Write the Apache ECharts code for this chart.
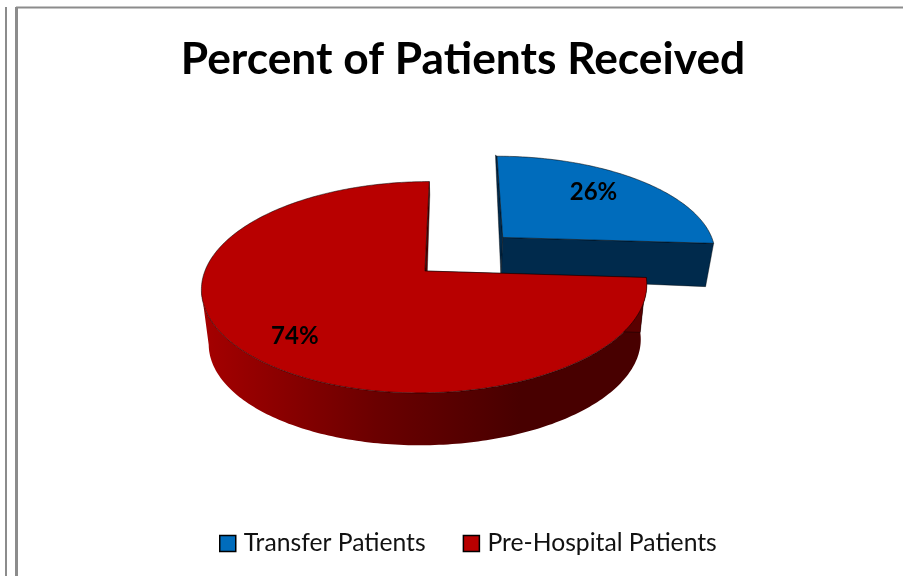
<!DOCTYPE html>
<html>
<head>
<meta charset="utf-8">
<title>Percent of Patients Received</title>
<style>
    html, body { margin: 0; padding: 0; background: #fff; }
    #chart { width: 903px; height: 576px; }
</style>
<script src="https://cdn.jsdelivr.net/npm/echarts@6/dist/echarts.min.js"></script>
</head>
<body>
<div id="chart"></div>
<script>
var titleText = 'Percent of Patients Received';
var sliceNames = ['Transfer Patients', 'Pre-Hospital Patients'];
var sliceValues = [26, 74];
var sliceColors = ['#006cbc', '#b80000'];
var wallColors = ['#002a4c', '#5a0000'];

// perspective used for the tilted pie, the library has no 3d pie
var view = {
    vx: 458, vy: -399, camera: 670, depth: 0.0007,
    radius: 220, explode: 55, centerX: 7, centerY: 37.7,
    thick: 55, thickBack: 0.19, thickFront: 0.012, shrink: 0.97, shrinkX: 445
};
var labelRadius = [0.72, 0.78];
var labelTurn = [-5, -4];

var total = sliceValues.reduce(function (a, b) { return a + b; }, 0);

function sliceRange(index) {
    var start = 0;
    for (var i = 0; i < index; i++) {
        start += sliceValues[i] / total * 360;
    }
    return [start, start + sliceValues[index] / total * 360];
}

// world point of a slice: angle is clockwise from the back of the pie
function worldPoint(index, angle, r) {
    var range = sliceRange(index);
    var mid = (range[0] + range[1]) / 2 * Math.PI / 180;
    var a = angle * Math.PI / 180;
    return [
        view.centerX + view.explode * Math.sin(mid) + r * Math.sin(a),
        view.centerY + view.explode * Math.cos(mid) + r * Math.cos(a)
    ];
}

function topPoint(w) {
    var s = 1 / (1 + view.depth * w[1]);
    return [view.vx + w[0] * s, view.vy + view.camera * s];
}

function bottomPoint(w) {
    var top = topPoint(w);
    // wall height changes a bit with depth
    var wall = view.thick - Math.max(w[1], 0) * view.thickBack + Math.min(w[1], 0) * view.thickFront;
    return [
        view.shrinkX + (top[0] - view.shrinkX) * view.shrink,
        top[1] + wall
    ];
}

function renderSlice(params, api) {
    var index = params.seriesIndex;
    var range = sliceRange(index);
    var arc = [];
    for (var a = range[0]; a < range[1]; a += 1) {
        arc.push(worldPoint(index, a, view.radius));
    }
    arc.push(worldPoint(index, range[1], view.radius));
    var apex = worldPoint(index, range[0], 0);

    var arcTop = arc.map(topPoint);

    // outer wall stops at the leftmost point, past it the strip folds and leaves a hole
    var leftmost = 0;
    arcTop.forEach(function (p, i) {
        if (p[0] < arcTop[leftmost][0]) {
            leftmost = i;
        }
    });
    var wallArc = arc.slice(0, leftmost + 1);
    var wallPoints = wallArc.map(topPoint).concat(wallArc.map(bottomPoint).reverse());

    var wallFill = wallColors[index];
    if (index === 1) {
        wallFill = new echarts.graphic.LinearGradient(205, 0, 520, 0, [
            {offset: 0, color: '#a40000'},
            {offset: 0.55, color: '#6a0000'},
            {offset: 1, color: '#480000'}
        ], true);
    }
    var edge = 'rgba(0,0,0,0.65)';
    var first = arc[0];
    var last = arc[arc.length - 1];

    var mid = (range[0] + range[1]) / 2 + labelTurn[index];
    var labelAt = topPoint(worldPoint(index, mid, view.radius * labelRadius[index]));

    return {
        type: 'group',
        children: [{
            type: 'polygon',
            shape: {points: wallPoints},
            style: {fill: wallFill, stroke: 'none'}
        }, {
            type: 'polygon',
            shape: {points: [topPoint(apex), topPoint(first), bottomPoint(first), bottomPoint(apex)]},
            style: {fill: wallColors[index], stroke: edge, lineWidth: 0.6}
        }, {
            type: 'polygon',
            shape: {points: [topPoint(apex), topPoint(last), bottomPoint(last), bottomPoint(apex)]},
            style: {fill: wallColors[index], stroke: edge, lineWidth: 0.6}
        }, {
            type: 'polygon',
            shape: {points: [topPoint(apex)].concat(arcTop)},
            style: {fill: api.visual('color'), stroke: edge, lineWidth: 0.8}
        }, {
            type: 'text',
            x: labelAt[0] + 1,
            y: labelAt[1] + 1,
            style: {
                text: api.value(0) + '%',
                fill: '#000',
                font: 'bold 24px Lato',
                align: 'center',
                verticalAlign: 'middle'
            }
        }]
    };
}

var chart = echarts.init(document.getElementById('chart'), null, {renderer: 'canvas'});

var frameLine = {stroke: '#8c8c8c', lineWidth: 2};

chart.setOption({
    animation: false,
    backgroundColor: '#fff',
    title: {
        text: titleText,
        left: 458,
        top: 33,
        textAlign: 'center',
        textStyle: {fontFamily: 'Lato', fontWeight: 'bold', fontSize: 44.3, color: '#000'}
    },
    legend: {
        left: 214,
        top: 526,
        itemWidth: 16,
        itemHeight: 16,
        itemGap: 37,
        icon: 'rect',
        data: sliceNames,
        itemStyle: {borderColor: '#000', borderWidth: 1.5},
        textStyle: {fontFamily: 'Lato', fontSize: 24.7, color: '#111', padding: [0, 0, 0, 3]}
    },
    graphic: [
        {type: 'line', shape: {x1: 16, y1: 7.5, x2: 903, y2: 7.5}, style: frameLine},
        {type: 'line', shape: {x1: 6, y1: 7, x2: 6, y2: 576}, style: frameLine},
        {type: 'line', shape: {x1: 16.5, y1: 7, x2: 16.5, y2: 576}, style: {stroke: '#8c8c8c', lineWidth: 3}}
    ],
    series: sliceNames.map(function (name, i) {
        return {
            type: 'custom',
            name: name,
            coordinateSystem: 'none',
            z: 2 + i,
            itemStyle: {color: sliceColors[i]},
            renderItem: renderSlice,
            data: [[sliceValues[i]]]
        };
    })
});
</script>
</body>
</html>
